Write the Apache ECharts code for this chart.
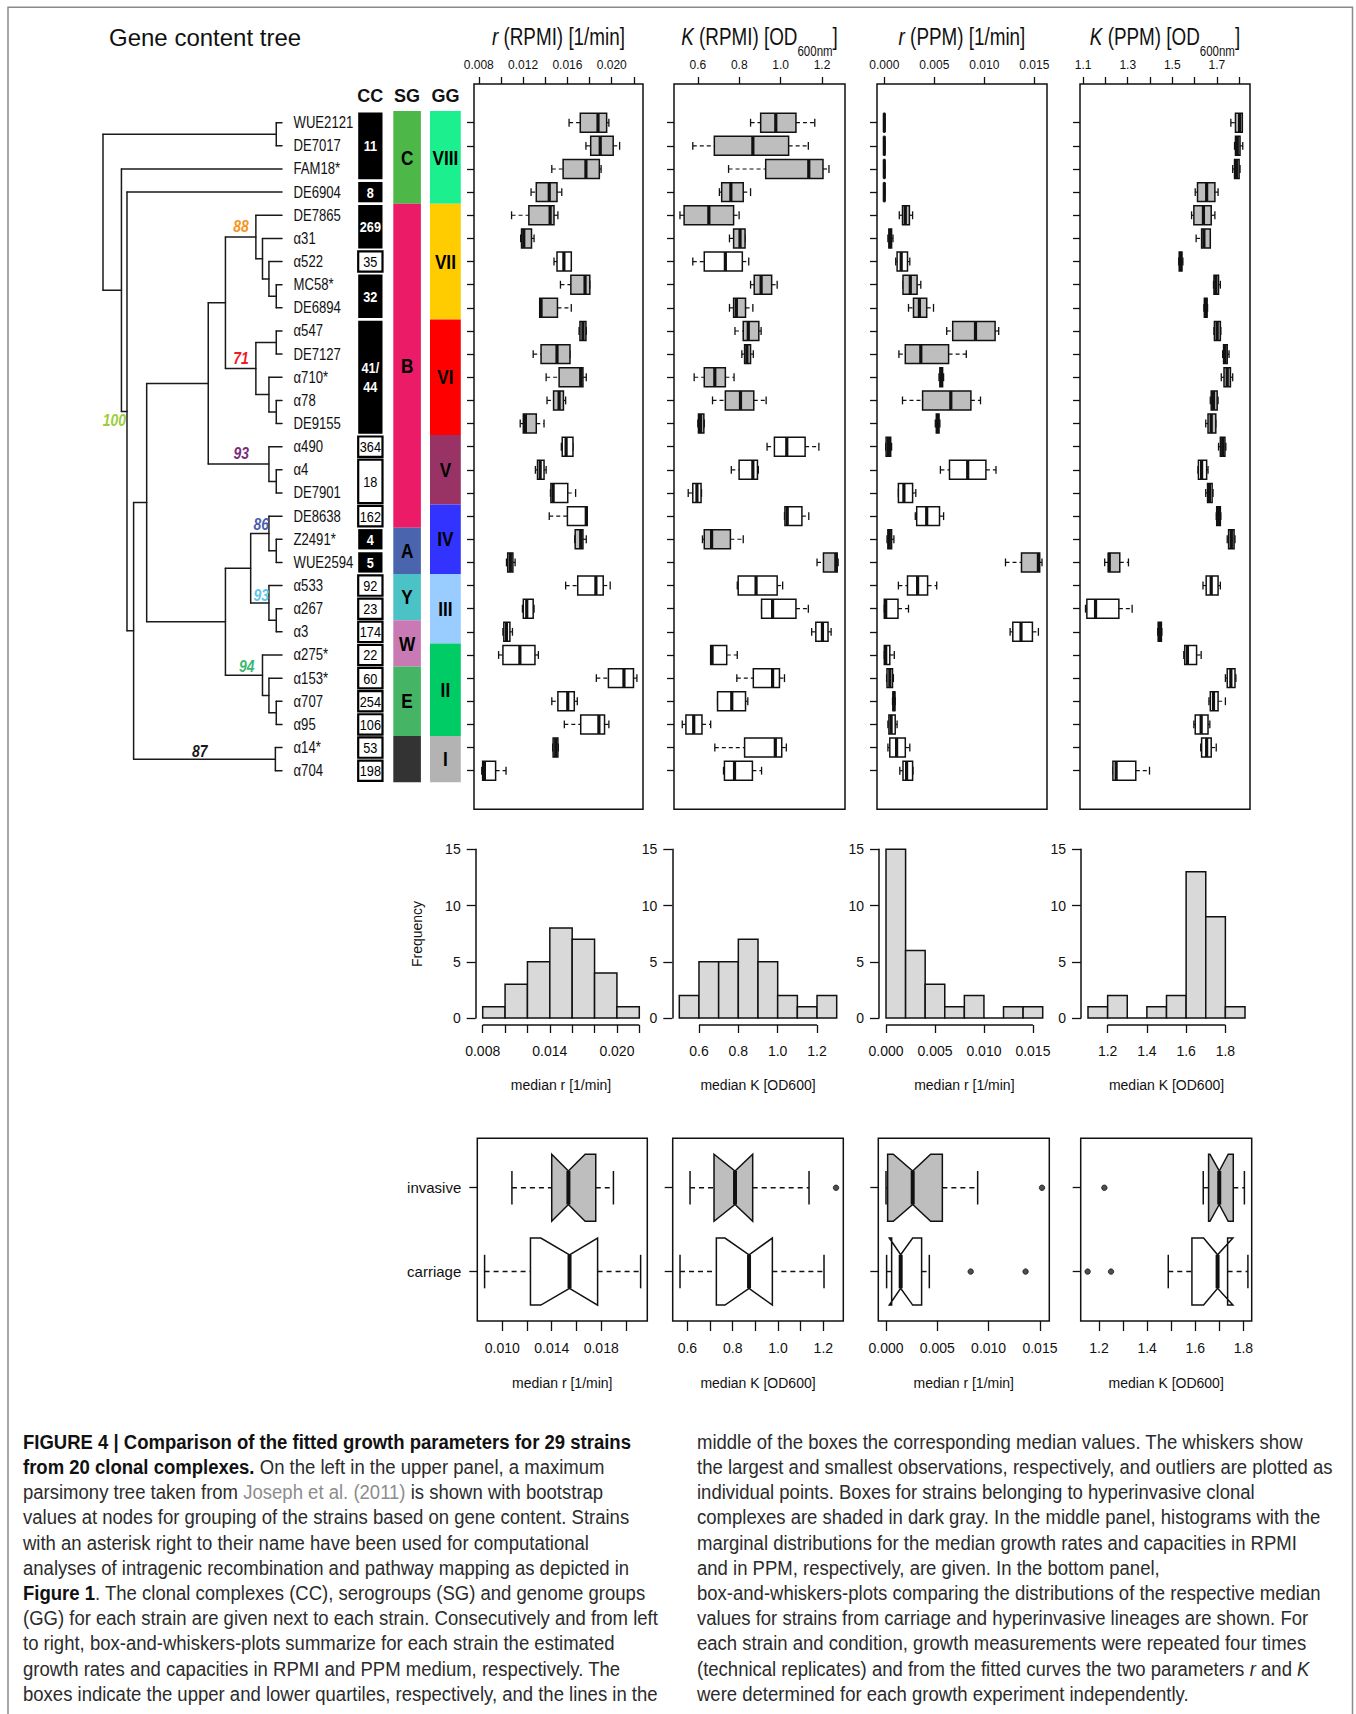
<!DOCTYPE html>
<html>
<head>
<meta charset="utf-8">
<title>Figure 4 – growth parameters of 29 strains</title>
<script src="https://cdn.jsdelivr.net/npm/echarts@6.0.0/dist/echarts.min.js"></script>
<style>
html,body{margin:0;padding:0;background:#fff;}
#chart{width:1356px;height:1714px;}
</style>
</head>
<body>
<div id="chart"></div>
<script>
// =================== DATA ===================
const strains = ['WUE2121','DE7017','FAM18*','DE6904','DE7865','α31','α522','MC58*','DE6894','α547','DE7127','α710*','α78','DE9155','α490','α4','DE7901','DE8638','Z2491*','WUE2594','α533','α267','α3','α275*','α153*','α707','α95','α14*','α704'];
// 1 = hyperinvasive clonal complex (shaded)
const hyperinvasive = [1,1,1,1,1,1,0,1,1,1,1,1,1,1,0,0,0,0,1,1,0,0,0,0,0,0,0,0,0];

// Gene content tree: [nodeDepth, child, child]; numbers are strain indexes; root depth 0, tips depth 100
const tree = [0, [96.8, 0, 1], [10.3, 2, [13.4, 3, [17.1,
  [24.4,
    [58.8,
      [68.4, [85.4, 4, [89.1, 5, [92.7, 6, [96.8, 7, 8]]]], [85.4, [96.8, 9, 10], [92.7, 11, [96.8, 12, 13]]]],
      [92.7, 14, [96.8, 15, 16]]],
    [68.4,
      [82.5, [92.7, 17, [96.8, 18, 19]], [92.7, 20, [96.8, 21, 22]]],
      [89.1, 23, [92.7, 24, [96.8, 25, 26]]]]],
  [96.3, 27, 28]]]]];
// bootstrap values: [value, first strain of clade, last strain of clade]
const bootstrap = [['100',3,28],['88',4,8],['71',9,13],['93',14,16],['86',17,19],['93',20,22],['94',23,26],['87',27,28]];

// clonal complexes, serogroups, genome groups: [firstRow, lastRow, label]
const ccGroups = [[0,2,'11'],[3,3,'8'],[4,5,'269'],[6,6,'35'],[7,8,'32'],[9,13,'41/\n44'],[14,14,'364'],[15,16,'18'],[17,17,'162'],[18,18,'4'],[19,19,'5'],[20,20,'92'],[21,21,'23'],[22,22,'174'],[23,23,'22'],[24,24,'60'],[25,25,'254'],[26,26,'106'],[27,27,'53'],[28,28,'198']];
const sgGroups = [[0,3,'C'],[4,17,'B'],[18,19,'A'],[20,21,'Y'],[22,23,'W'],[24,26,'E'],[27,28,'']];
const ggGroups = [[0,3,'VIII'],[4,8,'VII'],[9,13,'VI'],[14,16,'V'],[17,19,'IV'],[20,22,'III'],[23,26,'II'],[27,28,'I']];

// per-strain box stats: [lower whisker, Q1, median, Q3, upper whisker]
const rRPMI = [
[0.01615,0.01716,0.01876,0.01954,0.01974],[0.01767,0.01810,0.01896,0.02013,0.02071],[0.01459,0.01561,0.01767,0.01888,0.01904],
[0.01272,0.01319,0.01436,0.01506,0.01549],[0.01096,0.01252,0.01444,0.01479,0.01514],[0.01178,0.01186,0.01206,0.01276,0.01299],
[0.01479,0.01506,0.01568,0.01635,0.01635],[0.01537,0.01631,0.01759,0.01802,0.01802],[0.01350,0.01350,0.01362,0.01510,0.01635],
[0.01705,0.01713,0.01740,0.01767,0.01770],[0.01291,0.01362,0.01506,0.01623,0.01623],[0.01408,0.01525,0.01720,0.01740,0.01770],
[0.01416,0.01475,0.01525,0.01564,0.01584],[0.01174,0.01202,0.01221,0.01319,0.01389],[0.01545,0.01553,0.01588,0.01650,0.01650],
[0.01311,0.01330,0.01354,0.01389,0.01408],[0.01447,0.01451,0.01471,0.01603,0.01674],[0.01436,0.01600,0.01770,0.01778,0.01778],
[0.01666,0.01670,0.01720,0.01740,0.01770],[0.01050,0.01061,0.01085,0.01108,0.01128],[0.01584,0.01693,0.01857,0.01923,0.01986],
[0.01194,0.01202,0.01233,0.01291,0.01299],[0.01018,0.01026,0.01050,0.01081,0.01104],[0.00979,0.01018,0.01171,0.01307,0.01338],
[0.01861,0.01970,0.02110,0.02196,0.02227],[0.01459,0.01514,0.01603,0.01662,0.01689],[0.01572,0.01720,0.01884,0.01935,0.01974],
[0.01467,0.01471,0.01494,0.01514,0.01518],[0.00827,0.00835,0.00851,0.00952,0.01046]];
const kRPMI = [
[0.8547,0.9035,0.9766,1.0740,1.1650],[0.5756,0.6797,0.8658,1.0386,1.1338],[0.7484,0.9278,1.1360,1.2047,1.2335],
[0.7041,0.7152,0.7595,0.8193,0.8547],[0.5136,0.5336,0.6532,0.7728,0.7994],[0.7528,0.7728,0.8038,0.8281,0.8281],
[0.5756,0.6310,0.7329,0.8149,0.8459],[0.8547,0.8724,0.9057,0.9566,0.9832],[0.7528,0.7728,0.7861,0.8304,0.8658],
[0.7794,0.8193,0.8437,0.8946,0.9057],[0.8126,0.8259,0.8370,0.8547,0.8680],[0.5823,0.6310,0.6820,0.7329,0.7750],
[0.6709,0.7329,0.8060,0.8702,0.9300],[0.6000,0.6030,0.6130,0.6290,0.6310],[0.9345,0.9699,1.0297,1.1183,1.1848],
[0.7617,0.7994,0.8658,0.8880,0.8924],[0.5535,0.5756,0.5956,0.6155,0.6177],[1.0186,1.0208,1.0319,1.1028,1.1360],
[0.6222,0.6310,0.6665,0.7573,0.8193],[1.1759,1.2069,1.2667,1.2733,1.2778],[0.7905,0.7949,0.8813,0.9832,1.0098],
[0.9079,0.9079,0.9611,1.0740,1.1338],[1.1500,1.1700,1.2020,1.2290,1.2440],[0.6620,0.6620,0.6687,0.7395,0.7905],
[0.7883,0.8680,0.9611,0.9943,1.0186],[0.6952,0.6952,0.7639,0.8304,0.8414],[0.5247,0.5424,0.5801,0.6199,0.6620],
[0.6820,0.8259,0.9743,1.0053,1.0275],[0.7240,0.7285,0.7772,0.8636,0.9079]];
const rPPM = [
[-0.00004,-0.00002,0.00000,0.00002,0.00004],[-0.00004,-0.00002,0.00000,0.00002,0.00004],[-0.00004,-0.00002,0.00000,0.00002,0.00004],
[-0.00004,-0.00002,0.00000,0.00002,0.00004],[0.00150,0.00182,0.00210,0.00251,0.00283],[0.00036,0.00046,0.00059,0.00073,0.00087],
[0.00114,0.00128,0.00169,0.00232,0.00255],[0.00187,0.00187,0.00260,0.00328,0.00365],[0.00242,0.00292,0.00351,0.00424,0.00492],
[0.00624,0.00684,0.00912,0.01108,0.01144],[0.00146,0.00210,0.00365,0.00643,0.00820],[0.00547,0.00556,0.00570,0.00583,0.00593],
[0.00182,0.00383,0.00665,0.00866,0.00962],[0.00510,0.00520,0.00533,0.00547,0.00556],[0.00014,0.00018,0.00041,0.00064,0.00073],
[0.00561,0.00652,0.00834,0.01016,0.01117],[0.00141,0.00141,0.00196,0.00283,0.00315],[0.00310,0.00324,0.00424,0.00552,0.00593],
[0.00027,0.00036,0.00050,0.00073,0.00096],[0.01212,0.01372,0.01541,0.01554,0.01577],[0.00141,0.00232,0.00333,0.00433,0.00524],
[0.00000,0.00000,0.00014,0.00137,0.00242],[0.01258,0.01285,0.01367,0.01481,0.01541],[0.00000,0.00000,0.00014,0.00055,0.00100],
[0.00023,0.00027,0.00055,0.00082,0.00091],[0.00082,0.00087,0.00096,0.00105,0.00109],[0.00036,0.00046,0.00068,0.00109,0.00128],
[0.00036,0.00055,0.00123,0.00210,0.00255],[0.00155,0.00187,0.00223,0.00283,0.00287]];
const kPPM = [
[1.7630,1.7837,1.8020,1.8145,1.8145],[1.7796,1.7837,1.7919,1.8042,1.8165],[1.7713,1.7796,1.7878,1.8001,1.8042],
[1.6030,1.6133,1.6543,1.6913,1.7056],[1.5866,1.5969,1.6399,1.6748,1.6913],[1.6071,1.6317,1.6420,1.6707,1.6707],
[1.5290,1.5311,1.5373,1.5434,1.5476],[1.6851,1.6872,1.6954,1.7077,1.7159],[1.6420,1.6440,1.6502,1.6563,1.6584],
[1.6872,1.6892,1.7015,1.7159,1.7180],[1.7262,1.7303,1.7364,1.7467,1.7549],[1.7200,1.7323,1.7467,1.7611,1.7713],
[1.6707,1.6748,1.6851,1.7015,1.7056],[1.6502,1.6605,1.6748,1.6954,1.6954],[1.7077,1.7159,1.7262,1.7364,1.7405],
[1.6153,1.6174,1.6317,1.6543,1.6605],[1.6502,1.6584,1.6666,1.6789,1.6830],[1.6974,1.6995,1.7077,1.7159,1.7180],
[1.7467,1.7529,1.7652,1.7775,1.7816],[1.1965,1.2129,1.2170,1.2642,1.3032],[1.6379,1.6522,1.6748,1.7056,1.7159],
[1.1103,1.1164,1.1554,1.2601,1.3197],[1.4346,1.4367,1.4429,1.4511,1.4531],[1.5517,1.5558,1.5681,1.6091,1.6297],
[1.7385,1.7467,1.7631,1.7816,1.7857],[1.6646,1.6707,1.6851,1.7056,1.7385],[1.5969,1.6030,1.6297,1.6605,1.6687],
[1.6276,1.6317,1.6543,1.6748,1.6974],[1.2334,1.2334,1.2478,1.3361,1.3977]];
const topPanelData = [rRPMI, kRPMI, rPPM, kPPM];

// top panel axes
const topTicks = [[0.008,0.010,0.012,0.014,0.016,0.018,0.020,0.022],[0.6,0.8,1.0,1.2],[0,0.005,0.010,0.015],[1.1,1.2,1.3,1.4,1.5,1.6,1.7,1.8]];
const topLabels = [[0.008,0.012,0.016,0.020],[0.6,0.8,1.0,1.2],[0,0.005,0.010,0.015],[1.1,1.3,1.5,1.7]];
const topRange = [[0.00757,0.02282],[0.4848,1.311],[-0.00073,0.01627],[1.0856,1.849]];

// histograms of strain medians
const histBreaks = [
  [0.008,0.010,0.012,0.014,0.016,0.018,0.020,0.022],
  [0.5,0.6,0.7,0.8,0.9,1.0,1.1,1.2,1.3],
  [0,0.002,0.004,0.006,0.008,0.010,0.012,0.014,0.016],
  [1.1,1.2,1.3,1.4,1.5,1.6,1.7,1.8,1.9]];
const histCounts = [[1,3,5,8,7,4,1],[2,5,5,7,5,2,1,2],[15,6,3,1,2,0,1,1],[1,2,0,1,2,13,9,1]];
const histTicks = [[0.008,0.010,0.012,0.014,0.016,0.018,0.020,0.022],[0.6,0.8,1.0,1.2],[0,0.005,0.010,0.015],[1.2,1.4,1.6,1.8]];
const histLabels = [[0.008,0.014,0.020],[0.6,0.8,1.0,1.2],[0,0.005,0.010,0.015],[1.2,1.4,1.6,1.8]];
const freqTicks = [0,5,10,15];

// invasive vs carriage notched boxes: [lower whisker, Q1, notch low, median, notch high, Q3, upper whisker]
const invasiveStats = [
  [0.01078,0.01400,0.01400,0.01535,0.01670,0.01756,0.01899],
  [0.6118,0.7176,0.7176,0.8103,0.8882,0.8882,1.1368],
  [0.00000,0.00016,0.00071,0.00260,0.00435,0.00549,0.00893],
  [1.6332,1.6554,1.6610,1.6997,1.7370,1.7580,1.8042]];
const carriageStats = [
  [0.00857,0.01228,0.01312,0.01544,0.01771,0.01771,0.02119],
  [0.5676,0.7279,0.7660,0.8721,0.9750,0.9750,1.2029],
  [0.00006,0.00055,0.00032,0.00143,0.00260,0.00347,0.00422],
  [1.4878,1.5861,1.6346,1.6928,1.7565,1.7344,1.8188]];
const invasiveOutliers = [[],[1.2559],[0.0152],[1.2222]];
const carriageOutliers = [[],[],[0.00825,0.0136],[1.1526,1.2499]];
const botTicks = [[0.010,0.012,0.014,0.016,0.018,0.020],[0.6,0.7,0.8,0.9,1.0,1.1,1.2],[0,0.005,0.010,0.015],[1.2,1.3,1.4,1.5,1.6,1.7,1.8]];
const botLabels = [[0.010,0.014,0.018],[0.6,0.8,1.0,1.2],[0,0.005,0.010,0.015],[1.2,1.4,1.6,1.8]];
const botRange = [[0.00798,0.02173],[0.5353,1.288],[-0.00075,0.01591],[1.1238,1.8346]];
const groupNames = ['carriage','invasive'];

const labelDecimals = [3,1,3,1];
const histTitles = ['median r [1/min]','median K [OD600]','median r [1/min]','median K [OD600]'];

const captionLeft = [
 '{b|FIGURE 4 | Comparison of the fitted growth parameters for 29 strains}',
 '{b|from 20 clonal complexes.} On the left in the upper panel, a maximum',
 'parsimony tree taken from {g|Joseph et al. (2011)} is shown with bootstrap',
 'values at nodes for grouping of the strains based on gene content. Strains',
 'with an asterisk right to their name have been used for computational',
 'analyses of intragenic recombination and pathway mapping as depicted in',
 '{b|Figure 1}. The clonal complexes (CC), serogroups (SG) and genome groups',
 '(GG) for each strain are given next to each strain. Consecutively and from left',
 'to right, box-and-whiskers-plots summarize for each strain the estimated',
 'growth rates and capacities in RPMI and PPM medium, respectively. The',
 'boxes indicate the upper and lower quartiles, respectively, and the lines in the'];
const captionRight = [
 'middle of the boxes the corresponding median values. The whiskers show',
 'the largest and smallest observations, respectively, and outliers are plotted as',
 'individual points. Boxes for strains belonging to hyperinvasive clonal',
 'complexes are shaded in dark gray. In the middle panel, histograms with the',
 'marginal distributions for the median growth rates and capacities in RPMI',
 'and in PPM, respectively, are given. In the bottom panel,',
 'box-and-whiskers-plots comparing the distributions of the respective median',
 'values for strains from carriage and hyperinvasive lineages are shown. For',
 'each strain and condition, growth measurements were repeated four times',
 '(technical replicates) and from the fitted curves the two parameters {i|r} and {i|K}',
 'were determined for each growth experiment independently.'];

// =================== STYLE / LAYOUT ===================
const FONT = '"Liberation Sans", Arial, Helvetica, sans-serif';
const NS = 0.82;            // horizontal compression for condensed-looking text
const INK = '#111';
const ROW_MIN = -1.672, ROW_MAX = 29.668;
const PANEL_TOP = 84, PANEL_H = 725.3;
const topGridX = [[474,643],[674,845],[877,1047],[1080,1250]];
const histGridX = [[482.7,639.3],[679.3,836.7],[886,1042.7],[1088,1245]];
const botGridX = [[477.3,647.3],[672.7,843.3],[878.3,1049.3],[1080.7,1251.7]];
const HIST_TOP = 849.3, HIST_H = 168.7, BOT_TOP = 1138.3, BOT_H = 182.7;
const sgColors = ['#4db848','#eb1b68','#4a64ad','#4bc2c5','#c97ab4','#45b465','#333333'];
const ggColors = ['#1cf08e','#ffcc00','#ff0000','#993366','#3333ff','#99ccff','#00cc66','#b3b3b3'];
const bootStyle = [
  {c:'#9acd3c',dx:-1,dy:9},{c:'#f7941d',dx:-7,dy:-11},{c:'#ed1c24',dx:-7,dy:-11},{c:'#7b2c7b',dx:-20,dy:-11},
  {c:'#4a5fae',dx:0,dy:-9},{c:'#5ec7ea',dx:0,dy:-8},{c:'#3db771',dx:-8,dy:-9},{c:'#1a1a1a',dx:-68,dy:-8}];

const measureCtx = document.createElement('canvas').getContext('2d');
function textWidth(t, font) { measureCtx.font = font; return measureCtx.measureText(t).width; }

const rows = strains.map((_, i) => i);
const grids = [], xAxes = [], yAxes = [], series = [], graphics = [];
function addGrid(g) {
  grids.push(Object.assign({outerBoundsMode:'none', containLabel:false, show:false}, g));
  return grids.length - 1;
}
function hiddenAxis(gi, min, max, inverse) {
  return {gridIndex: gi, type:'value', min, max, inverse: !!inverse, show:false, axisLine:{onZero:false}};
}
const tickStyle = {color: INK, width: 1.3};
function ln(x1, y1, x2, y2, extra) {
  return {type:'line', shape:{x1, y1, x2, y2}, style:Object.assign({stroke:INK, lineWidth:1.2, lineCap:'butt'}, extra || {})};
}
function ntext(x, y, text, font, fill, align, extra) {
  return Object.assign({type:'text', x, y, scaleX:NS, silent:true,
    style:{text, font, fill, align, verticalAlign:'middle'}}, extra || {});
}

// ---------- tree ----------
function renderTree(params, api) {
  const ch = [];
  const nodes = [];
  const st = {lineWidth:1.5, lineCap:'round', stroke:'#1a1a1a'};
  function layout(n) {
    if (typeof n === 'number') return {d:100, y:n, lo:n, hi:n};
    const d = n[0];
    const kids = n.slice(1).map(layout);
    const y = (kids[0].y + kids[kids.length - 1].y) / 2;
    const a = api.coord([d, kids[0].y]), b = api.coord([d, kids[kids.length - 1].y]);
    ch.push(ln(a[0], a[1], b[0], b[1], st));
    kids.forEach(k => {
      const p = api.coord([d, k.y]), q = api.coord([k.d, k.y]);
      ch.push(ln(p[0], p[1], q[0], q[1], st));
    });
    const node = {d, y, lo:kids[0].lo, hi:kids[kids.length - 1].hi};
    nodes.push(node);
    return node;
  }
  layout(tree);
  bootstrap.forEach((b, i) => {
    const node = nodes.find(n => n.lo === b[1] && n.hi === b[2]);
    if (!node) return;
    const p = api.coord([node.d, node.y]);
    const s = bootStyle[i];
    ch.push(ntext(p[0] + s.dx, p[1] + s.dy, b[0], 'italic bold 17px ' + FONT, s.c, 'right'));
  });
  strains.forEach((name, i) => {
    const p = api.coord([100, i]);
    ch.push(ntext(p[0] + 11.5, p[1], name, '16px ' + FONT, INK, 'left'));
  });
  return {type:'group', children:ch};
}
const gTree = addGrid({left:103, top:PANEL_TOP, width:179, height:PANEL_H});
xAxes.push(hiddenAxis(gTree, 0, 100));
yAxes.push(hiddenAxis(gTree, ROW_MIN, ROW_MAX, true));
series.push({type:'custom', xAxisIndex:gTree, yAxisIndex:gTree, data:[[0, 0]], renderItem:renderTree, silent:true, clip:false});

// ---------- CC / SG / GG columns ----------
function colRenderer(groups, mode, colors) {
  return function (params, api) {
    const g = groups[params.dataIndex];
    const p0 = api.coord([0, g[0] - 0.5]), p1 = api.coord([1, g[1] + 0.5]);
    const ch = [];
    let fill, txt, font, inset = 0, lw = 0;
    if (mode === 'cc') {
      const black = hyperinvasive[g[0]] === 1;
      fill = black ? '#000' : '#fff'; txt = black ? '#fff' : '#000';
      lw = black ? 0 : 2.2; inset = 1.4;
      font = (black ? 'bold ' : '') + '15.5px ' + FONT;
    } else {
      fill = colors[params.dataIndex]; txt = '#000'; font = 'bold 21px ' + FONT;
    }
    ch.push({type:'rect', shape:{x:p0[0], y:p0[1] + inset, width:p1[0] - p0[0], height:p1[1] - p0[1] - 2 * inset},
      style:{fill, stroke: lw ? '#000' : null, lineWidth:lw}});
    if (g[2]) {
      const t = ntext((p0[0] + p1[0]) / 2, (p0[1] + p1[1]) / 2, g[2], font, txt, 'center');
      t.style.lineHeight = 19;
      ch.push(t);
    }
    return {type:'group', children:ch};
  };
}
[[ccGroups,'cc',null,358.2,24.3],[sgGroups,'sg',sgColors,393.3,27.6],[ggGroups,'gg',ggColors,430,30.8]].forEach(c => {
  const gi = addGrid({left:c[3], top:PANEL_TOP, width:c[4], height:PANEL_H});
  xAxes.push(hiddenAxis(gi, 0, 1));
  yAxes.push(hiddenAxis(gi, ROW_MIN, ROW_MAX, true));
  series.push({type:'custom', xAxisIndex:gi, yAxisIndex:gi, data:c[0].map((g, i) => [i, g[0], g[1]]),
    renderItem:colRenderer(c[0], c[1], c[2]), silent:true, clip:false});
});

// ---------- top box panels ----------
function renderTopBox(params, api) {
  const row = api.value(0);
  const v = [1, 2, 3, 4, 5].map(d => api.value(d));
  const shaded = api.value(6) === 1;
  const unit = api.size([0, 1])[1];
  const hw = 0.41 * unit, st = 0.17 * unit;
  const xs = v.map(val => api.coord([val, row])[0]);
  const y = api.coord([v[2], row])[1];
  const ch = [];
  if (xs[1] - xs[0] > 0.3) ch.push(ln(xs[0], y, xs[1], y, {lineDash:[4, 3]}));
  if (xs[4] - xs[3] > 0.3) ch.push(ln(xs[3], y, xs[4], y, {lineDash:[4, 3]}));
  ch.push(ln(xs[0], y - st, xs[0], y + st, {lineWidth:1.3}));
  ch.push(ln(xs[4], y - st, xs[4], y + st, {lineWidth:1.3}));
  ch.push({type:'rect', shape:{x:xs[1], y:y - hw, width:Math.max(xs[3] - xs[1], 0.4), height:2 * hw},
    style:{fill: shaded ? '#bebebe' : '#fff', stroke:INK, lineWidth:1.5}});
  ch.push(ln(xs[2], y - hw, xs[2], y + hw, {lineWidth:3.2}));
  return {type:'group', children:ch};
}
topPanelData.forEach((data, k) => {
  const gi = addGrid({left:topGridX[k][0], top:PANEL_TOP, width:topGridX[k][1] - topGridX[k][0], height:PANEL_H,
    show:true, borderColor:INK, borderWidth:1.5, backgroundColor:'#fff'});
  xAxes.push({gridIndex:gi, type:'value', position:'top', min:topRange[k][0], max:topRange[k][1],
    axisLine:{show:false, onZero:false}, splitLine:{show:false},
    axisTick:{show:true, customValues:topTicks[k], length:7, inside:false, lineStyle:tickStyle},
    axisLabel:{show:true, customValues:topLabels[k], formatter:v => Number(v).toFixed(labelDecimals[k]),
      margin:13, fontFamily:FONT, fontSize:12, color:INK}});
  yAxes.push({gridIndex:gi, type:'value', min:ROW_MIN, max:ROW_MAX, inverse:true,
    axisLine:{show:false, onZero:false}, splitLine:{show:false},
    axisTick:{show:true, customValues:rows, length:7, inside:false, lineStyle:tickStyle},
    axisLabel:{show:false}});
  series.push({type:'custom', xAxisIndex:gi, yAxisIndex:gi, renderItem:renderTopBox, silent:true, clip:false,
    data:data.map((s, i) => [i, s[0], s[1], s[2], s[3], s[4], hyperinvasive[i]])});
});

// ---------- histograms ----------
function renderHist(params, api) {
  const x0 = api.value(0), x1 = api.value(1), c = api.value(2);
  const p0 = api.coord([x0, c]), p1 = api.coord([x1, 0]);
  if (c === 0) return ln(p0[0], p1[1], p1[0], p1[1], {lineWidth:1.5});
  return {type:'rect', shape:{x:p0[0], y:p0[1], width:p1[0] - p0[0], height:p1[1] - p0[1]},
    style:{fill:'#d9d9d9', stroke:INK, lineWidth:1.5}};
}
function renderHistAxisLine(params, api) {
  const a = api.coord([api.value(0), 0]), b = api.coord([api.value(1), 0]);
  return ln(a[0], a[1] + 7, b[0], b[1] + 7, {lineWidth:1.5});
}
histCounts.forEach((counts, k) => {
  const br = histBreaks[k];
  const gi = addGrid({left:histGridX[k][0], top:HIST_TOP, width:histGridX[k][1] - histGridX[k][0], height:HIST_H});
  xAxes.push({gridIndex:gi, type:'value', position:'bottom', min:br[0], max:br[br.length - 1], offset:7,
    axisLine:{show:false, onZero:false}, splitLine:{show:false},
    axisTick:{show:true, customValues:histTicks[k], length:8, lineStyle:tickStyle},
    axisLabel:{show:true, customValues:histLabels[k], formatter:v => Number(v).toFixed(labelDecimals[k]),
      margin:19, fontFamily:FONT, fontSize:14, color:INK},
    name:histTitles[k], nameLocation:'middle', nameGap:53,
    nameTextStyle:{fontFamily:FONT, fontSize:14, color:INK}});
  yAxes.push({gridIndex:gi, type:'value', min:0, max:15, offset:7,
    axisLine:{show:true, onZero:false, lineStyle:{color:INK, width:1.5}}, splitLine:{show:false},
    axisTick:{show:true, customValues:freqTicks, length:9, lineStyle:tickStyle},
    axisLabel:{show:true, customValues:freqTicks, margin:15, fontFamily:FONT, fontSize:14, color:INK}});
  series.push({type:'custom', xAxisIndex:gi, yAxisIndex:gi, renderItem:renderHist, silent:true, clip:false,
    data:counts.map((c, i) => [br[i], br[i + 1], c])});
  const t = histTicks[k];
  series.push({type:'custom', xAxisIndex:gi, yAxisIndex:gi, renderItem:renderHistAxisLine, silent:true, clip:false,
    data:[[t[0], t[t.length - 1]]]});
});

// ---------- notched boxes: invasive vs carriage ----------
function renderNotch(params, api) {
  const pos = api.value(0);
  const v = [1, 2, 3, 4, 5, 6, 7].map(d => api.value(d));
  const shaded = api.value(8) === 1;
  const unit = api.size([0, 1])[1];
  const w = 0.4 * unit, nf = 0.5, st = 0.5 * w;
  const X = v.map(val => api.coord([val, pos])[0]);
  const yc = api.coord([v[3], pos])[1];
  const [xwl, xq1, xlo, xmd, xhi, xq3, xwh] = X;
  const ch = [];
  if (xq1 - xwl > 0.3) ch.push(ln(xwl, yc, xq1, yc, {lineDash:[5, 4], lineWidth:1.4}));
  if (xwh - xq3 > 0.3) ch.push(ln(xq3, yc, xwh, yc, {lineDash:[5, 4], lineWidth:1.4}));
  ch.push(ln(xwl, yc - st, xwl, yc + st, {lineWidth:1.5}));
  ch.push(ln(xwh, yc - st, xwh, yc + st, {lineWidth:1.5}));
  const pts = [[xq1, yc - w], [xq1, yc + w], [xlo, yc + w], [xmd, yc + nf * w], [xhi, yc + w], [xq3, yc + w],
    [xq3, yc - w], [xhi, yc - w], [xmd, yc - nf * w], [xlo, yc - w]];
  ch.push({type:'polygon', shape:{points:pts}, style:{fill: shaded ? '#bebebe' : '#fff', stroke:INK, lineWidth:1.5, lineJoin:'miter'}});
  ch.push(ln(xmd, yc - nf * w, xmd, yc + nf * w, {lineWidth:4}));
  return {type:'group', children:ch};
}
invasiveStats.forEach((inv, k) => {
  const car = carriageStats[k];
  const gi = addGrid({left:botGridX[k][0], top:BOT_TOP, width:botGridX[k][1] - botGridX[k][0], height:BOT_H,
    show:true, borderColor:INK, borderWidth:1.5, backgroundColor:'#fff'});
  xAxes.push({gridIndex:gi, type:'value', position:'bottom', min:botRange[k][0], max:botRange[k][1],
    axisLine:{show:false, onZero:false}, splitLine:{show:false},
    axisTick:{show:true, customValues:botTicks[k], length:10, lineStyle:tickStyle},
    axisLabel:{show:true, customValues:botLabels[k], formatter:v => Number(v).toFixed(labelDecimals[k]),
      margin:20, fontFamily:FONT, fontSize:14, color:INK},
    name:histTitles[k], nameLocation:'middle', nameGap:55,
    nameTextStyle:{fontFamily:FONT, fontSize:14, color:INK}});
  yAxes.push({gridIndex:gi, type:'value', min:0.41, max:2.59,
    axisLine:{show:false, onZero:false}, splitLine:{show:false},
    axisTick:{show:true, customValues:[1, 2], length:8, lineStyle:tickStyle},
    axisLabel:{show:k === 0, customValues:[1, 2], formatter:v => groupNames[Math.round(v) - 1],
      margin:16, fontFamily:FONT, fontSize:15, color:INK}});
  series.push({type:'custom', xAxisIndex:gi, yAxisIndex:gi, renderItem:renderNotch, silent:true, clip:false,
    data:[[2].concat(inv, [1]), [1].concat(car, [0])]});
  series.push({type:'scatter', xAxisIndex:gi, yAxisIndex:gi, silent:true, symbol:'circle', symbolSize:5.5,
    itemStyle:{color:'#222', borderColor:'#000', borderWidth:0.8},
    data:invasiveOutliers[k].map(v => [v, 2]).concat(carriageOutliers[k].map(v => [v, 1]))});
});

// ---------- texts ----------
function composedTitle(parts, cx, cy) {
  let total = 0;
  parts.forEach(p => { p.w = textWidth(p.t, p.font) * NS; total += p.w; });
  let x = cx - total / 2;
  parts.forEach(p => {
    graphics.push(ntext(x, cy + (p.dy || 0), p.t, p.font, INK, 'left'));
    x += p.w;
  });
}
const TF = '23px ' + FONT, TFI = 'italic 23px ' + FONT, SUB = '14px ' + FONT;
composedTitle([{t:'r', font:TFI}, {t:' (RPMI) [1/min]', font:TF}], (topGridX[0][0] + topGridX[0][1]) / 2, 37);
composedTitle([{t:'K', font:TFI}, {t:' (RPMI) [OD', font:TF}, {t:'600nm', font:SUB, dy:14}, {t:']', font:TF}], (topGridX[1][0] + topGridX[1][1]) / 2, 37);
composedTitle([{t:'r', font:TFI}, {t:' (PPM) [1/min]', font:TF}], (topGridX[2][0] + topGridX[2][1]) / 2, 37);
composedTitle([{t:'K', font:TFI}, {t:' (PPM) [OD', font:TF}, {t:'600nm', font:SUB, dy:14}, {t:']', font:TF}], (topGridX[3][0] + topGridX[3][1]) / 2, 37);

graphics.push({type:'text', x:109, y:37, silent:true, style:{text:'Gene content tree', font:'24px ' + FONT, fill:INK, align:'left', verticalAlign:'middle'}});
[['CC', 370.3], ['SG', 407.1], ['GG', 445.4]].forEach(h => graphics.push({type:'text', x:h[1], y:96, silent:true,
  style:{text:h[0], font:'bold 18px ' + FONT, fill:INK, align:'center', verticalAlign:'middle'}}));
graphics.push({type:'text', x:417, y:934, rotation:Math.PI / 2, silent:true,
  style:{text:'Frequency', font:'14px ' + FONT, fill:INK, align:'center', verticalAlign:'middle'}});
graphics.push({type:'rect', silent:true, shape:{x:8, y:7.3, width:1344.5, height:1730},
  style:{fill:'none', stroke:'#8a8a8a', lineWidth:1.5}});

// caption: condensed to the column widths of the reference
const CAP_SIZE = 20;
const capScale = 635 / textWidth(captionLeft[7], CAP_SIZE + 'px ' + FONT);
const capRich = {
  b:{fontFamily:FONT, fontSize:CAP_SIZE, fontWeight:'bold', fill:'#111'},
  g:{fontFamily:FONT, fontSize:CAP_SIZE, fill:'#8c8c8c'},
  i:{fontFamily:FONT, fontSize:CAP_SIZE, fontStyle:'italic', fill:'#2b2b2b'}};
function addCaption(lines, x) {
  lines.forEach((t, i) => graphics.push({type:'text', x, y:1442 + i * 25.2, scaleX:capScale, silent:true,
    style:{text:t, fontFamily:FONT, fontSize:CAP_SIZE, fill:'#2b2b2b', align:'left', verticalAlign:'middle', rich:capRich}}));
}
addCaption(captionLeft, 23);
addCaption(captionRight, 697);

// =================== CHART ===================
const chart = echarts.init(document.getElementById('chart'), null, {renderer:'svg', width:1356, height:1714});
chart.setOption({
  animation:false,
  backgroundColor:'#fff',
  textStyle:{fontFamily:FONT},
  grid:grids, xAxis:xAxes, yAxis:yAxes, series, graphic:graphics
});
</script>
</body>
</html>
